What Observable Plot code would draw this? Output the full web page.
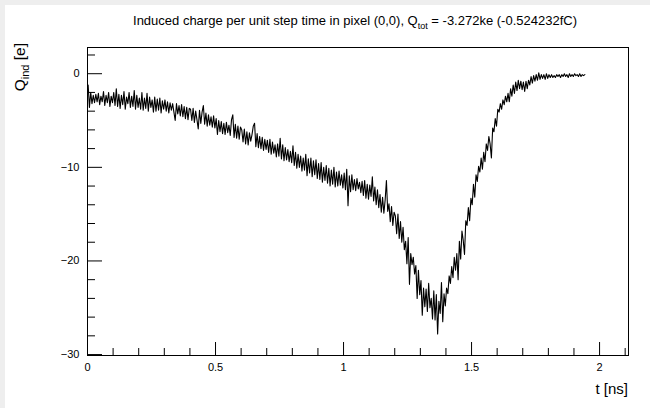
<!DOCTYPE html>
<html>
<head>
<meta charset="utf-8">
<script src="https://cdn.jsdelivr.net/npm/d3@7"></script>
<script src="https://cdn.jsdelivr.net/npm/@observablehq/plot@0.6"></script>
<style>
  html, body { margin: 0; padding: 0; background: #eeeeee; width: 650px; height: 408px; overflow: hidden; }
  #chart { position: absolute; left: 5px; top: 5px; width: 645px; height: 403px; background: white; }
  svg { font-family: "Liberation Sans", Arial, Helvetica, sans-serif; }
</style>
</head>
<body>
<div id="chart"></div>
<script>
// Histogram: induced charge per time bin (bin width 0.005 ns, first bin starts at 0 ns)
const binStart = 0;
const binWidth = 0.005;
const charge = [
  // 0.00 - 0.095
  -1.2, -3.6, -2.0, -3.2, -2.3, -3.1, -2.2, -3.0, -2.1, -3.3, -2.4, -3.0, -1.9, -3.4, -2.3, -3.1, -2.0, -3.5, -2.4, -3.1,
  // 0.10 - 0.195
  -2.0, -3.4, -1.6, -3.5, -2.2, -3.7, -2.3, -3.3, -1.9, -3.8, -2.5, -3.2, -2.0, -3.6, -2.4, -3.5, -1.8, -3.8, -2.3, -3.6,
  // 0.20 - 0.295
  -2.6, -3.8, -2.0, -3.9, -2.6, -3.7, -2.1, -4.0, -2.5, -3.6, -2.8, -4.1, -2.5, -4.0, -2.7, -3.9, -2.6, -4.2, -2.9, -3.8,
  // 0.30 - 0.395
  -2.8, -4.0, -3.0, -4.2, -3.1, -3.9, -3.2, -4.1, -5.0, -3.2, -4.3, -3.4, -4.5, -3.3, -4.6, -3.5, -4.8, -3.6, -4.9, -3.7,
  // 0.40 - 0.495
  -3.8, -5.0, -3.7, -5.2, -4.0, -4.9, -5.9, -3.9, -5.3, -4.1, -3.4, -5.4, -4.2, -5.6, -4.4, -5.5, -4.6, -5.7, -4.5, -5.8,
  // 0.50 - 0.595
  -4.8, -6.5, -5.0, -6.2, -5.1, -6.4, -5.3, -6.5, -5.2, -6.3, -5.5, -6.6, -4.9, -4.4, -6.8, -5.4, -6.9, -5.6, -7.0, -5.7,
  // 0.60 - 0.695
  -6.0, -7.3, -5.9, -7.5, -6.2, -7.6, -6.3, -7.2, -6.5, -5.6, -5.3, -7.8, -6.4, -7.9, -6.7, -8.0, -6.8, -8.2, -7.0, -8.1,
  // 0.70 - 0.795
  -7.1, -8.4, -7.0, -8.6, -7.3, -8.5, -7.6, -8.9, -7.5, -8.8, -6.9, -9.1, -7.6, -9.3, -7.9, -9.2, -8.1, -9.4, -8.3, -9.5,
  // 0.80 - 0.895
  -7.7, -9.8, -8.4, -10.1, -8.6, -10.0, -8.8, -10.4, -9.0, -10.3, -8.6, -10.9, -9.1, -10.6, -9.0, -11.0, -9.3, -10.8, -9.2, -11.2,
  // 0.90 - 0.995
  -9.6, -11.3, -9.5, -11.6, -10.0, -11.4, -9.8, -11.7, -10.1, -12.0, -10.3, -11.8, -10.0, -12.1, -10.5, -12.0, -10.4, -11.9, -10.8, -12.2,
  // 1.00 - 1.095
  -10.6, -12.4, -10.2, -14.1, -10.9, -12.6, -10.8, -12.4, -11.3, -12.5, -11.2, -12.3, -11.6, -12.7, -11.5, -13.0, -11.4, -13.3, -11.8, -13.4,
  // 1.10 - 1.195
  -11.9, -13.1, -11.0, -13.6, -12.1, -14.0, -12.4, -14.3, -12.9, -14.8, -13.2, -14.9, -13.5, -11.4, -14.7, -13.9, -15.8, -14.2, -16.2, -14.8,
  // 1.20 - 1.295
  -15.2, -17.1, -15.0, -17.6, -15.8, -18.0, -16.4, -18.8, -17.9, -20.3, -17.5, -22.5, -19.2, -20.4, -19.6, -21.4, -20.5, -24.0, -21.0, -23.6,
  // 1.30 - 1.395
  -22.1, -25.8, -22.9, -24.9, -23.0, -25.4, -22.4, -25.0, -24.0, -26.2, -23.2, -26.3, -23.6, -27.8, -24.3, -25.6, -22.3, -26.5, -23.5, -24.8,
  // 1.40 - 1.495
  -22.9, -23.5, -21.6, -22.4, -20.6, -21.8, -19.6, -21.0, -19.2, -22.0, -17.9, -19.8, -16.8, -17.8, -19.3, -15.7, -16.2, -14.3, -15.7, -13.3,
  // 1.50 - 1.595
  -14.0, -11.8, -13.2, -10.8, -11.5, -9.9, -10.5, -9.0, -10.2, -8.4, -9.4, -7.5, -8.2, -6.7, -7.5, -9.0, -5.8, -6.2, -4.8, -5.6,
  // 1.60 - 1.695
  -3.8, -4.1, -3.2, -3.8, -2.8, -3.3, -2.4, -3.0, -2.1, -3.0, -1.6, -2.4, -1.2, -2.1, -0.9, -1.8, -0.7, -1.6, -0.8, -1.7,
  // 1.70 - 1.795
  -0.9, -1.9, -0.8, -1.6, -0.7, -1.2, -0.3, -1.0, -0.2, -0.8, -0.1, -0.7, 0.1, -0.6, -0.1, -0.5, -0.1, -0.6, 0.0, -0.5,
  // 1.80 - 1.895
  -0.1, -0.4, -0.1, -0.4, -0.2, -0.4, -0.1, -0.3, -0.1, -0.4, -0.1, -0.3, 0.0, -0.3, -0.1, -0.4, 0.0, -0.3, -0.1, -0.3,
  // 1.90 - 1.94
  0.0, -0.2, -0.1, -0.3, 0.0, -0.3, -0.1, -0.2, -0.1
];

const xDomain = [0, 2.113];
const yDomain = [-30.1, 2.8];
const xMajorTicks = [0, 0.5, 1, 1.5, 2];
const xMinorTicks = [0.1, 0.2, 0.3, 0.4, 0.6, 0.7, 0.8, 0.9, 1.1, 1.2, 1.3, 1.4, 1.6, 1.7, 1.8, 1.9, 2.1];
const yMajorTicks = [-30, -20, -10, 0];
const yMinorTicks = [-28, -26, -24, -22, -18, -16, -14, -12, -8, -6, -4, -2, 2];
const xTickLabels = ["0", "0.5", "1", "1.5", "2"];
const yTickLabels = ["\u221230", "\u221220", "\u221210", "0"];

const titleMain = "Induced charge per unit step time in pixel (0,0), Q";
const titleSub = "tot";
const titleRest = " = -3.272ke (-0.524232fC)";
const yLabelMain = "Q", yLabelSub = "ind", yLabelRest = " [e]";
const xLabel = "t [ns]";

const table = charge.map((q, i) => ({t: binStart + (i + 0.5) * binWidth, q}));

const W = 645, H = 403;
const mL = 82, mR = 22, mT = 42, mB = 53;
const fw = W - mL - mR, fh = H - mT - mB;

const plot = Plot.plot({
  width: W, height: H,
  marginLeft: mL, marginRight: mR, marginTop: mT, marginBottom: mB,
  x: {domain: xDomain},
  y: {domain: yDomain},
  style: {background: "white", fontFamily: "'Liberation Sans', Arial, Helvetica, sans-serif", color: "black"},
  marks: [
    Plot.ruleX(xMajorTicks, {x: d => d, insetTop: fh - 13, stroke: "black", strokeWidth: 1}),
    Plot.ruleX(xMinorTicks, {x: d => d, insetTop: fh - 7, stroke: "black", strokeWidth: 1}),
    Plot.ruleY(yMajorTicks, {y: d => d, insetRight: fw - 15, stroke: "black", strokeWidth: 1}),
    Plot.ruleY(yMinorTicks, {y: d => d, insetRight: fw - 8, stroke: "black", strokeWidth: 1}),
    Plot.axisX({ticks: xMajorTicks, tickSize: 0, tickPadding: 8, fontSize: 11, label: null,
      tickFormat: d => xTickLabels[xMajorTicks.indexOf(d)]}),
    Plot.axisY({ticks: yMajorTicks, tickSize: 0, tickPadding: 8, fontSize: 11, label: null,
      tickFormat: d => yTickLabels[yMajorTicks.indexOf(d)]}),
    Plot.lineY(table, {x: "t", y: "q", curve: "linear", stroke: "black", strokeWidth: 1.1}),
    Plot.frame({stroke: "black", strokeWidth: 1})
  ]
});

const svg = d3.select(plot);
// Title
const title = svg.append("text")
  .attr("x", 350).attr("y", 20)
  .attr("text-anchor", "middle")
  .attr("font-size", 13)
  .attr("fill", "black");
title.append("tspan").text(titleMain);
title.append("tspan").attr("font-size", 9).attr("dy", 4).text(titleSub);
title.append("tspan").attr("dy", -4).text(titleRest);

// Y axis label
const yl = svg.append("text")
  .attr("transform", `translate(20,${38}) rotate(-90)`)
  .attr("text-anchor", "end")
  .attr("font-size", 15.5)
  .attr("fill", "black");
yl.append("tspan").text(yLabelMain);
yl.append("tspan").attr("font-size", 11).attr("dy", 4).text(yLabelSub);
yl.append("tspan").attr("dy", -4).text(yLabelRest);

// X axis label
svg.append("text")
  .attr("x", W - mR).attr("y", 389)
  .attr("text-anchor", "end")
  .attr("font-size", 15)
  .attr("fill", "black")
  .text(xLabel);

document.getElementById("chart").appendChild(plot);
</script>
</body>
</html>
